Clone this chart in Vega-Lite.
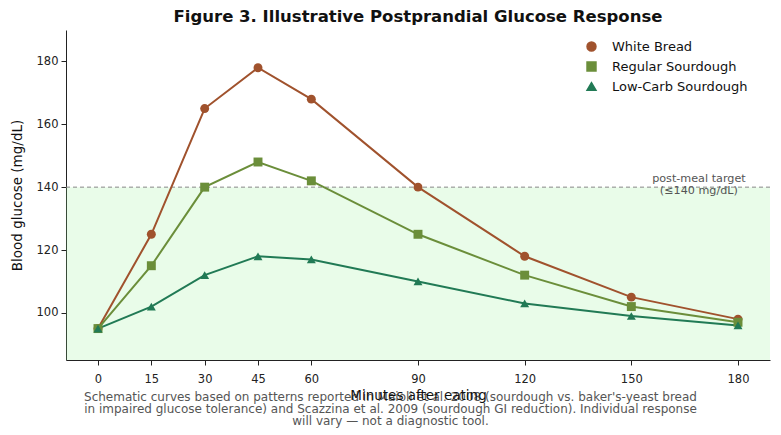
{
  "$schema": "https://vega.github.io/schema/vega-lite/v6.json",
  "width": 704,
  "height": 330,
  "autosize": {"type": "none"},
  "padding": {"left": 66, "top": 30, "right": 11, "bottom": 75},
  "background": "white",
  "config": {
    "view": {"stroke": null},
    "font": "DejaVu Sans",
    "axis": {"grid": false, "domainColor": "#222", "tickColor": "#222", "labelColor": "#222", "titleColor": "#111", "labelFont": "DejaVu Sans", "titleFont": "DejaVu Sans", "titleFontWeight": "normal"}
  },
  "title": {
    "text": "Figure 3. Illustrative Postprandial Glucose Response",
    "fontSize": 16.5,
    "fontWeight": "bold",
    "font": "DejaVu Sans",
    "color": "#111",
    "anchor": "middle",
    "frame": "group",
    "offset": 5
  },
  "datasets": {
    "glucose": [
      {"minutes": 0, "bread": "White Bread", "glucose": 95},
      {"minutes": 15, "bread": "White Bread", "glucose": 125},
      {"minutes": 30, "bread": "White Bread", "glucose": 165},
      {"minutes": 45, "bread": "White Bread", "glucose": 178},
      {"minutes": 60, "bread": "White Bread", "glucose": 168},
      {"minutes": 90, "bread": "White Bread", "glucose": 140},
      {"minutes": 120, "bread": "White Bread", "glucose": 118},
      {"minutes": 150, "bread": "White Bread", "glucose": 105},
      {"minutes": 180, "bread": "White Bread", "glucose": 98},
      {"minutes": 0, "bread": "Regular Sourdough", "glucose": 95},
      {"minutes": 15, "bread": "Regular Sourdough", "glucose": 115},
      {"minutes": 30, "bread": "Regular Sourdough", "glucose": 140},
      {"minutes": 45, "bread": "Regular Sourdough", "glucose": 148},
      {"minutes": 60, "bread": "Regular Sourdough", "glucose": 142},
      {"minutes": 90, "bread": "Regular Sourdough", "glucose": 125},
      {"minutes": 120, "bread": "Regular Sourdough", "glucose": 112},
      {"minutes": 150, "bread": "Regular Sourdough", "glucose": 102},
      {"minutes": 180, "bread": "Regular Sourdough", "glucose": 97},
      {"minutes": 0, "bread": "Low-Carb Sourdough", "glucose": 95},
      {"minutes": 15, "bread": "Low-Carb Sourdough", "glucose": 102},
      {"minutes": 30, "bread": "Low-Carb Sourdough", "glucose": 112},
      {"minutes": 45, "bread": "Low-Carb Sourdough", "glucose": 118},
      {"minutes": 60, "bread": "Low-Carb Sourdough", "glucose": 117},
      {"minutes": 90, "bread": "Low-Carb Sourdough", "glucose": 110},
      {"minutes": 120, "bread": "Low-Carb Sourdough", "glucose": 103},
      {"minutes": 150, "bread": "Low-Carb Sourdough", "glucose": 99},
      {"minutes": 180, "bread": "Low-Carb Sourdough", "glucose": 96}
    ],
    "target": [
      {"target": 140, "label": "post-meal target\n(≤140 mg/dL)"}
    ]
  },
  "resolve": {"axis": {"x": "independent"}},
  "layer": [
    {
      "data": {"name": "target"},
      "mark": {"type": "rect", "fill": "#90ee90", "opacity": 0.2},
      "encoding": {
        "y": {"field": "target", "type": "quantitative", "scale": {"domain": [85, 190], "nice": false, "zero": false}, "title": "Blood glucose (mg/dL)"},
        "y2": {"datum": 85}
      }
    },
    {
      "data": {"name": "target"},
      "mark": {"type": "rule", "color": "#888", "strokeDash": [4, 3], "strokeWidth": 1},
      "encoding": {
        "x": {"datum": -9, "type": "quantitative", "scale": {"domain": [-9, 189], "nice": false, "zero": false},
          "axis": {"orient": "bottom", "labels": false, "ticks": false, "domain": false,
            "title": ["Schematic curves based on patterns reported in Maioli et al. 2008 (sourdough vs. baker's-yeast bread", "in impaired glucose tolerance) and Scazzina et al. 2009 (sourdough GI reduction). Individual response", "will vary — not a diagnostic tool."],
            "titleFontSize": 12, "titleColor": "#555", "titleX": 324, "titleY": 31, "titleAlign": "center", "titleBaseline": "top", "titleLineHeight": 12}},
        "x2": {"datum": 189},
        "y": {"field": "target", "type": "quantitative", "title": "Blood glucose (mg/dL)"}
      }
    },
    {
      "data": {"name": "target"},
      "mark": {"type": "text", "align": "center", "baseline": "bottom", "dy": -3, "lineBreak": "\n", "lineHeight": 12, "fontSize": 11.2, "color": "#555"},
      "encoding": {
        "x": {"datum": 169, "type": "quantitative", "axis": null},
        "y": {"field": "target", "type": "quantitative", "title": "Blood glucose (mg/dL)"},
        "text": {"field": "label"}
      }
    },
    {
      "data": {"name": "glucose"},
      "mark": {"type": "line", "strokeWidth": 2},
      "encoding": {
        "x": {"field": "minutes", "type": "quantitative", "title": "Minutes after eating",
          "axis": {"orient": "bottom", "domain": true, "ticks": true, "zindex": 1, "values": [0, 15, 30, 45, 60, 90, 120, 150, 180], "labelFontSize": 11.5, "titleFontSize": 13.5, "tickSize": 5, "labelPadding": 8, "titlePadding": 4, "labelFlush": false}},
        "y": {"field": "glucose", "type": "quantitative", "title": "Blood glucose (mg/dL)",
          "axis": {"values": [100, 120, 140, 160, 180], "labelFontSize": 11.5, "titleFontSize": 13.5, "tickSize": 5, "labelPadding": 3, "titlePadding": 12}},
        "color": {"field": "bread", "type": "nominal", "title": null,
          "scale": {"domain": ["White Bread", "Regular Sourdough", "Low-Carb Sourdough"], "range": ["#a0522d", "#6b8e3a", "#217a55"]},
          "legend": {"orient": "none", "legendX": 509, "legendY": 10, "labelFontSize": 13, "labelColor": "#111", "symbolSize": 80, "rowPadding": 5, "symbolOffset": 10, "labelOffset": 14, "title": null}}
      }
    },
    {
      "data": {"name": "glucose"},
      "mark": {"type": "point", "filled": true, "opacity": 1, "size": 80, "strokeWidth": 1},
      "encoding": {
        "x": {"field": "minutes", "type": "quantitative", "axis": null},
        "y": {"field": "glucose", "type": "quantitative", "title": "Blood glucose (mg/dL)"},
        "color": {"field": "bread", "type": "nominal", "title": null,
          "scale": {"domain": ["White Bread", "Regular Sourdough", "Low-Carb Sourdough"], "range": ["#a0522d", "#6b8e3a", "#217a55"]},
          "legend": {"orient": "none", "legendX": 509, "legendY": 10, "labelFontSize": 13, "labelColor": "#111", "symbolSize": 80, "rowPadding": 5, "symbolOffset": 10, "labelOffset": 14, "title": null}},
        "shape": {"field": "bread", "type": "nominal", "title": null,
          "scale": {"domain": ["White Bread", "Regular Sourdough", "Low-Carb Sourdough"], "range": ["circle", "square", "triangle-up"]},
          "legend": {"orient": "none", "legendX": 509, "legendY": 10, "labelFontSize": 13, "labelColor": "#111", "symbolSize": 80, "rowPadding": 5, "symbolOffset": 10, "labelOffset": 14, "title": null}}
      }
    }
  ]
}
